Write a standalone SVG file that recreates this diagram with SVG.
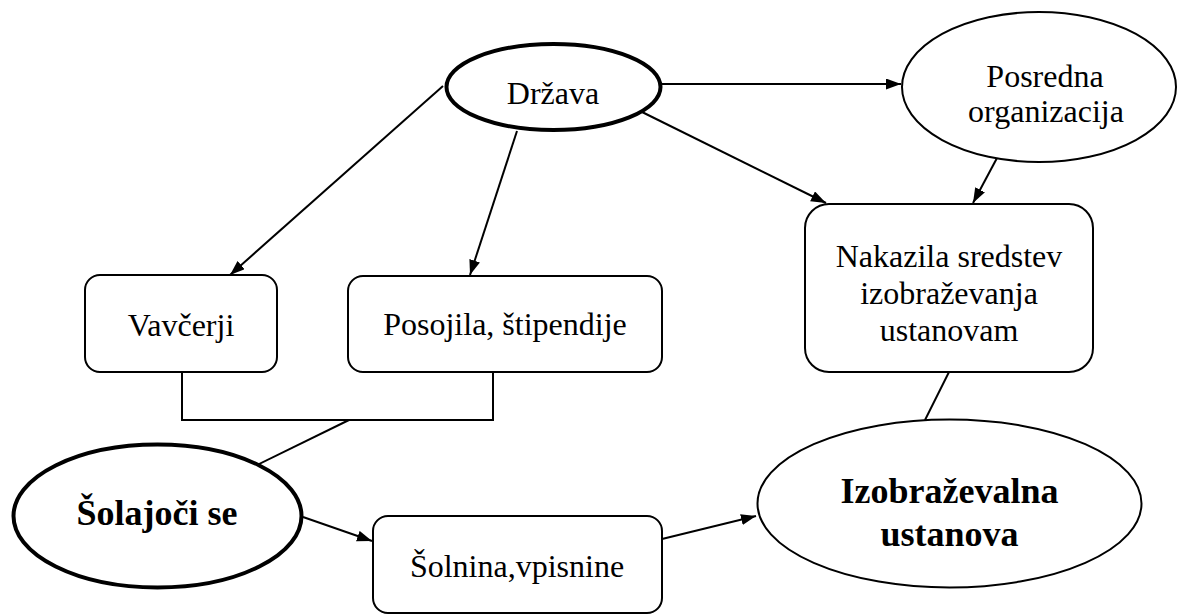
<svg xmlns="http://www.w3.org/2000/svg" width="1178" height="615" viewBox="0 0 1178 615">
<style>
.box{fill:#fff;stroke:#000;stroke-width:2}
.thin{fill:#fff;stroke:#000;stroke-width:2}
.thick{fill:#fff;stroke:#000;stroke-width:4}
.c{fill:none;stroke:#000;stroke-width:2}
</style>
<defs>
<marker id="ah" markerUnits="userSpaceOnUse" markerWidth="16" markerHeight="12" refX="15" refY="5.5" orient="auto">
<path d="M0,0 L15,5.5 L0,11 z" fill="#000"/>
</marker>
</defs>
<rect width="1178" height="615" fill="#fff"/>
<g id="connectors">
<line class="c" x1="443" y1="86" x2="230" y2="275" marker-end="url(#ah)"/>
<line class="c" x1="517" y1="131" x2="470" y2="275" marker-end="url(#ah)"/>
<line class="c" x1="662" y1="84" x2="901" y2="84" marker-end="url(#ah)"/>
<line class="c" x1="640" y1="111" x2="826" y2="203" marker-end="url(#ah)"/>
<line class="c" x1="997" y1="158" x2="973" y2="203" marker-end="url(#ah)"/>
<polyline class="c" points="182,372 182,420 493,420 493,372"/>
<line class="c" x1="349" y1="420" x2="253" y2="467"/>
<line class="c" x1="303" y1="517" x2="372" y2="541" marker-end="url(#ah)"/>
<line class="c" x1="662" y1="539" x2="756" y2="516" marker-end="url(#ah)"/>
<line class="c" x1="949" y1="372" x2="925" y2="420"/>
</g>
<g font-family="Liberation Serif, Times New Roman, Tinos, serif" font-size="32" fill="#000" text-anchor="middle">
<g id="drzava">
<ellipse class="thick" cx="553.5" cy="87" rx="107" ry="43"/>
<text x="553" y="104">Država</text>
</g>
<g id="posredna">
<ellipse class="thin" cx="1039" cy="87" rx="137" ry="75"/>
<text x="1045" y="87">Posredna</text>
<text x="1046" y="122">organizacija</text>
</g>
<g id="vavcerji">
<rect class="box" x="85" y="275" width="192" height="97" rx="15"/>
<text x="181" y="336">Vavčerji</text>
</g>
<g id="posojila">
<rect class="box" x="348" y="276" width="314" height="96" rx="15"/>
<text x="505" y="335">Posojila, štipendije</text>
</g>
<g id="nakazila">
<rect class="box" x="805" y="204" width="288" height="168" rx="24"/>
<text x="949" y="267">Nakazila sredstev</text>
<text x="949" y="304">izobraževanja</text>
<text x="949" y="341">ustanovam</text>
</g>
<g id="solajoci">
<ellipse class="thick" cx="157.5" cy="516" rx="144" ry="71.5"/>
<text x="157" y="525" font-size="36" font-weight="bold">Šolajoči se</text>
</g>
<g id="solnina">
<rect class="box" x="373" y="516" width="289" height="97" rx="15"/>
<text x="517" y="577">Šolnina,vpisnine</text>
</g>
<g id="izobrazevalna">
<ellipse class="thin" cx="949.5" cy="503.5" rx="192" ry="84"/>
<text x="949.5" y="503" font-size="36" font-weight="bold">Izobraževalna</text>
<text x="949.5" y="546" font-size="36" font-weight="bold">ustanova</text>
</g>
</g>
</svg>
